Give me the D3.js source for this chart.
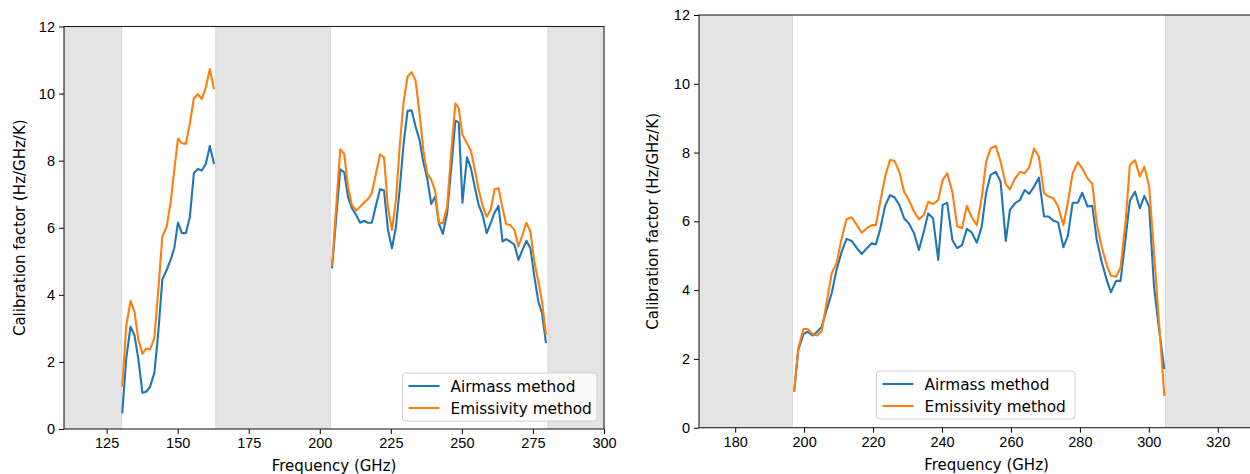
<!DOCTYPE html>
<html>
<head>
<meta charset="utf-8">
<script src="https://cdn.jsdelivr.net/npm/d3@7"></script>
<style>
  body { margin: 0; background: #fff; }
  svg { display: block; font-family: "DejaVu Sans", sans-serif; }
  .tick text { font-size: 14.5px; fill: #000; }
  .tick line { stroke: #000; }
  .domain { display: none; }
</style>
</head>
<body>
<div id="chart"></div>
<script>
// ---- left panel: two detector segments
var lowFreq = [130.5, 131.9, 133.4, 134.8, 136.2, 137.6, 138.9, 140.3, 141.8, 143.2, 144.6, 146.1,
               147.5, 148.8, 150.1, 151.5, 152.9, 154.3, 155.7, 157.1, 158.5, 159.9, 161.3, 162.8];
var lowAirmass = [0.47, 2.1, 3.05, 2.8, 2.06, 1.08, 1.11, 1.26, 1.68, 2.9, 4.46, 4.74,
                  5.04, 5.39, 6.15, 5.84, 5.84, 6.33, 7.63, 7.75, 7.71, 7.9, 8.44, 7.9];
var lowEmissivity = [1.26, 3.07, 3.82, 3.5, 2.65, 2.24, 2.4, 2.37, 2.72, 4.15, 5.74, 6.03,
                     6.73, 7.72, 8.66, 8.52, 8.5, 9.12, 9.86, 9.98, 9.84, 10.18, 10.73, 10.13];

var midFreq = [204.3, 207.2, 208.6, 209.9, 211.3, 212.8, 214.2, 215.6, 216.9, 218.3, 219.8, 221.2,
               222.6, 224.0, 225.4, 226.8, 228.2, 229.5, 230.9, 232.3, 233.7, 235.1, 236.5, 237.8,
               239.2, 240.6, 241.9, 243.3, 244.8, 246.2, 247.7, 248.9, 250.2, 251.8, 253.2, 254.5,
               255.9, 257.3, 258.7, 260.1, 261.5, 262.9, 264.3, 265.6, 267.0, 268.5, 269.9, 271.3,
               272.7, 274.1, 275.5, 276.9, 278.2, 279.6];
var midAirmass = [4.79, 7.74, 7.65, 6.93, 6.58, 6.38, 6.15, 6.21, 6.15, 6.15, 6.68, 7.15,
                  7.11, 5.93, 5.39, 6.03, 7.23, 8.52, 9.49, 9.5, 9.02, 8.62, 7.92, 7.48,
                  6.71, 6.93, 6.13, 5.82, 6.43, 7.72, 9.19, 9.14, 6.75, 8.1, 7.77, 7.23,
                  6.68, 6.38, 5.84, 6.13, 6.45, 6.65, 5.59, 5.66, 5.59, 5.49, 5.04, 5.34,
                  5.61, 5.39, 4.54, 3.8, 3.45, 2.56];
var midEmissivity = [4.85, 8.34, 8.2, 7.23, 6.68, 6.51, 6.63, 6.75, 6.85, 7.03, 7.63, 8.19,
                     8.09, 6.58, 5.93, 6.83, 8.52, 9.76, 10.51, 10.64, 10.39, 9.42, 8.27, 7.63,
                     7.43, 7.11, 6.15, 6.13, 6.63, 8.22, 9.71, 9.56, 8.77, 8.52, 8.29, 7.75,
                     7.13, 6.65, 6.33, 6.53, 7.15, 7.18, 6.58, 6.11, 6.08, 5.93, 5.44, 5.79,
                     6.15, 5.89, 4.99, 4.39, 3.8, 2.8];

// ---- right panel
var highFreq = [197.1, 198.3, 199.8, 201.0, 202.5, 203.8, 205.1, 206.5, 208.0, 209.4, 210.9, 212.3,
                213.8, 215.3, 216.7, 218.2, 219.6, 220.8, 222.0, 223.5, 224.9, 226.2, 227.6, 229.0,
                230.4, 231.9, 233.3, 234.7, 236.0, 237.4, 238.9, 240.2, 241.5, 243.0, 244.4, 245.8,
                247.2, 248.6, 250.1, 251.5, 252.8, 254.1, 255.6, 257.0, 258.5, 259.7, 261.2, 262.6,
                264.0, 265.3, 266.7, 268.1, 269.6, 270.9, 272.3, 273.7, 275.2, 276.5, 277.9, 279.4,
                280.7, 282.2, 283.6, 284.9, 286.3, 287.8, 289.0, 290.5, 291.8, 293.3, 294.5, 296.0,
                297.4, 298.7, 300.1, 301.5, 303.0, 304.5];
var highAirmass = [1.05, 2.26, 2.72, 2.79, 2.68, 2.79, 2.94, 3.42, 3.91, 4.59, 5.12, 5.49,
                   5.43, 5.22, 5.05, 5.22, 5.36, 5.33, 5.75, 6.45, 6.76, 6.7, 6.48, 6.09,
                   5.94, 5.65, 5.17, 5.7, 6.23, 6.09, 4.88, 6.48, 6.54, 5.46, 5.22, 5.31,
                   5.78, 5.68, 5.38, 5.84, 6.83, 7.35, 7.44, 7.15, 5.43, 6.33, 6.53, 6.62,
                   6.91, 6.8, 7.01, 7.27, 6.14, 6.14, 6.02, 5.97, 5.25, 5.57, 6.54, 6.54,
                   6.83, 6.43, 6.45, 5.46, 4.83, 4.29, 3.94, 4.27, 4.27, 5.55, 6.6, 6.86,
                   6.38, 6.74, 6.43, 4.1, 2.84, 1.70];
var highEmissivity = [1.05, 2.31, 2.87, 2.87, 2.72, 2.68, 2.81, 3.62, 4.49, 4.78, 5.51, 6.06,
                      6.12, 5.89, 5.67, 5.8, 5.89, 5.89, 6.52, 7.3, 7.78, 7.76, 7.44, 6.86,
                      6.62, 6.28, 6.06, 6.18, 6.57, 6.5, 6.62, 7.2, 7.4, 6.86, 5.86, 5.8,
                      6.45, 6.12, 5.89, 6.67, 7.73, 8.12, 8.19, 7.73, 7.08, 6.93, 7.25, 7.44,
                      7.4, 7.57, 8.12, 7.88, 6.82, 6.72, 6.67, 6.43, 5.89, 6.54, 7.4, 7.72,
                      7.54, 7.25, 7.09, 5.94, 5.26, 4.73, 4.42, 4.39, 4.66, 6.04, 7.64, 7.78,
                      7.3, 7.59, 7.01, 5.1, 3.0, 0.92];

// shaded (out of band) frequency ranges
var leftBands = [[110, 130.3], [163.4, 203.7], [280.3, 300]];
var rightBands = [[169.5, 196.6], [304.8, 331]];

var leftXTicks = [125, 150, 175, 200, 225, 250, 275, 300];
var rightXTicks = [180, 200, 220, 240, 260, 280, 300, 320];
var yTicks = [0, 2, 4, 6, 8, 10, 12];

var seriesNames = ["Airmass method", "Emissivity method"];
var colors = ["#1f77b4", "#ff7f0e"];

var W = 1250, H = 474;
var svg = d3.select("#chart").append("svg").attr("width", W).attr("height", H);

function panel(opt) {
  var x = d3.scaleLinear().domain(opt.xDomain).range([opt.left, opt.right]);
  var y = d3.scaleLinear().domain([0, 12]).range([opt.bottom, opt.top]);
  var g = svg.append("g");
  var clipId = "clip" + opt.id;
  g.append("clipPath").attr("id", clipId).append("rect")
    .attr("x", opt.left).attr("y", opt.top)
    .attr("width", opt.right - opt.left).attr("height", opt.bottom - opt.top);

  var plot = g.append("g").attr("clip-path", "url(#" + clipId + ")");
  opt.bands.forEach(function(b) {
    plot.append("rect")
      .attr("x", x(b[0])).attr("y", opt.top)
      .attr("width", x(b[1]) - x(b[0])).attr("height", opt.bottom - opt.top)
      .attr("fill", "#e4e4e4").attr("stroke", "#d8d8d8").attr("stroke-width", 1);
  });

  var line = d3.line().x(function(d) { return x(d[0]); }).y(function(d) { return y(d[1]); });
  opt.segments.forEach(function(s) {
    [s.a, s.e].forEach(function(vals, k) {
      plot.append("path")
        .datum(s.f.map(function(f, i) { return [f, vals[i]]; }))
        .attr("d", line).attr("fill", "none")
        .attr("stroke", colors[k]).attr("stroke-width", 2.1)
        .attr("stroke-linejoin", "round");
    });
  });

  // axes
  g.append("g").attr("transform", "translate(0," + opt.bottom + ")")
    .call(d3.axisBottom(x).tickValues(opt.xTicks).tickSize(5).tickPadding(4).tickFormat(d3.format("d")));
  g.append("g").attr("transform", "translate(" + opt.left + ",0)")
    .call(d3.axisLeft(y).tickValues(yTicks).tickSize(5).tickPadding(4).tickFormat(d3.format("d")));

  // spines
  g.append("rect")
    .attr("x", opt.left).attr("y", opt.top)
    .attr("width", opt.right - opt.left).attr("height", opt.bottom - opt.top)
    .attr("fill", "none").attr("stroke", "#222").attr("stroke-width", 1.1);

  g.append("text")
    .attr("x", (opt.left + Math.min(opt.right, W)) / 2 + opt.xLabelShift).attr("y", opt.bottom + 42)
    .attr("text-anchor", "middle").attr("font-size", "15px")
    .text("Frequency (GHz)");
  g.append("text")
    .attr("transform", "translate(" + opt.yLabelX + "," + ((opt.top + opt.bottom) / 2) + ") rotate(-90)")
    .attr("text-anchor", "middle").attr("font-size", "15px")
    .text("Calibration factor (Hz/GHz/K)");

  // legend
  var lg = g.append("g").attr("transform", "translate(" + opt.legend[0] + "," + opt.legend[1] + ")");
  lg.append("rect").attr("width", opt.legend[2]).attr("height", 48).attr("rx", 3)
    .attr("fill", "#fff").attr("fill-opacity", 0.8)
    .attr("stroke", "#d0d0d0").attr("stroke-width", 1);
  seriesNames.forEach(function(n, i) {
    var yy = 13 + i * 22;
    lg.append("line").attr("x1", 6).attr("x2", 37).attr("y1", yy).attr("y2", yy)
      .attr("stroke", colors[i]).attr("stroke-width", 2.1);
    lg.append("text").attr("x", 48).attr("y", yy + 5.5).attr("font-size", "15.3px").text(n);
  });
}

panel({
  id: "L", xDomain: [110, 300], left: 64, right: 604, top: 26.5, bottom: 429,
  bands: leftBands, xTicks: leftXTicks, yLabelX: 25, xLabelShift: 0,
  legend: [402.5, 373, 194.5],
  segments: [
    { f: lowFreq, a: lowAirmass, e: lowEmissivity },
    { f: midFreq, a: midAirmass, e: midEmissivity }
  ]
});

panel({
  id: "R", xDomain: [169.5, 331], left: 699, right: 699 + 161.5 * 3.447, top: 15, bottom: 427.7,
  bands: rightBands, xTicks: rightXTicks, yLabelX: 658, xLabelShift: 12,
  legend: [876.5, 371, 198.5],
  segments: [
    { f: highFreq, a: highAirmass, e: highEmissivity }
  ]
});
</script>
</body>
</html>
